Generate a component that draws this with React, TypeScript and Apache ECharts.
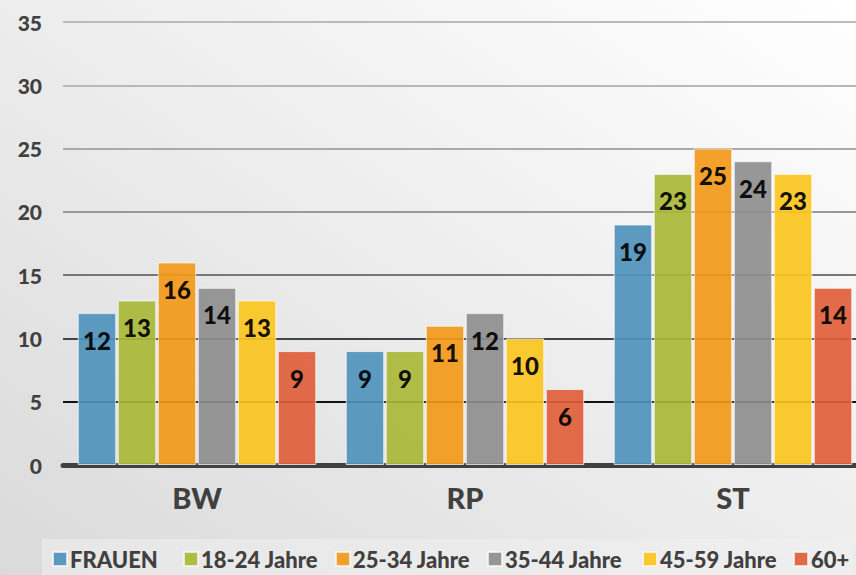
import React, { useEffect, useRef } from "react";
import * as echarts from "echarts";

const categories = ["BW", "RP", "ST"];
const seriesNames = ["FRAUEN", "18-24 Jahre", "25-34 Jahre", "35-44 Jahre", "45-59 Jahre", "60+"];
const frauen = [12, 9, 19];
const j18_24 = [13, 9, 23];
const j25_34 = [16, 11, 25];
const j35_44 = [14, 12, 24];
const j45_59 = [13, 10, 23];
const j60plus = [9, 6, 14];
const seriesValues = [frauen, j18_24, j25_34, j35_44, j45_59, j60plus];
const colors = ["#4f93bb", "#a9b838", "#f3991a", "#8e8e8e", "#fbc51f", "#e05f3a"];
const yTicks = [0, 5, 10, 15, 20, 25, 30, 35];
const gridColors = ["#3a3a3a", "#111111", "#444444", "#777777", "#999999", "#aaaaaa", "#b8b8b8", "#bbbbbb"];
const legendLefts = [52, 183, 335, 487, 642, 793];

const FONT = "Lato, 'Noto Sans', sans-serif";

export default function App() {
  const ref = useRef<HTMLDivElement>(null);
  useEffect(() => {
    if (!ref.current) return;
    const chart = echarts.init(ref.current, undefined, { renderer: "svg" });
    chart.setOption({
      animation: false,
      backgroundColor: new echarts.graphic.LinearGradient(1, 0, 0, 1, [
        { offset: 0, color: "#ffffff" },
        { offset: 1, color: "#dadada" },
      ]),
      graphic: [
        {
          type: "rect",
          left: 42,
          top: 539,
          shape: { width: 810, height: 40 },
          style: { fill: "rgba(240,240,240,0.55)" },
          z: -1,
        },
      ],
      grid: { left: 63, width: 804, top: 22, bottom: 110, containLabel: false, outerBoundsMode: "none" },
      legend: seriesNames.map((name, i) => ({
        left: legendLefts[i],
        top: 548,
        padding: 0,
        itemWidth: 14,
        itemHeight: 14,
        itemGap: 0,
        icon: "rect",
        textStyle: { fontFamily: FONT, fontWeight: 900, fontSize: 22, color: "#404040", padding: [0, 0, 0, -2] },
        data: [name],
      })),
      xAxis: {
        type: "category",
        data: categories,
        axisLine: { show: true, lineStyle: { color: "#404040", width: 5 } },
        axisTick: { show: false },
        axisLabel: { fontFamily: FONT, fontWeight: 900, fontSize: 29, color: "#404040", margin: 18 },
      },
      yAxis: {
        type: "value",
        min: yTicks[0],
        max: yTicks[yTicks.length - 1],
        interval: 5,
        axisLine: { show: false },
        axisTick: { show: false },
        axisLabel: { fontFamily: FONT, fontWeight: 900, fontSize: 21, color: "#404040", margin: 21 },
        splitLine: { lineStyle: { color: gridColors, width: 2 } },
      },
      series: seriesNames.map((name, i) => ({
        name,
        type: "bar",
        data: seriesValues[i],
        barCategoryGap: "11%",
        barGap: "4%",
        itemStyle: { color: colors[i], opacity: 0.92, borderColor: "rgba(250,250,250,0.8)", borderWidth: 1 },
        label: {
          show: true,
          position: "insideTop",
          distance: 15,
          fontFamily: FONT,
          fontWeight: 900,
          fontSize: 24,
          color: "#000000",
        },
      })),
    });
    return () => chart.dispose();
  }, []);
  return <div ref={ref} style={{ position: "fixed", left: 0, top: 0, width: 856, height: 575 }} />;
}
